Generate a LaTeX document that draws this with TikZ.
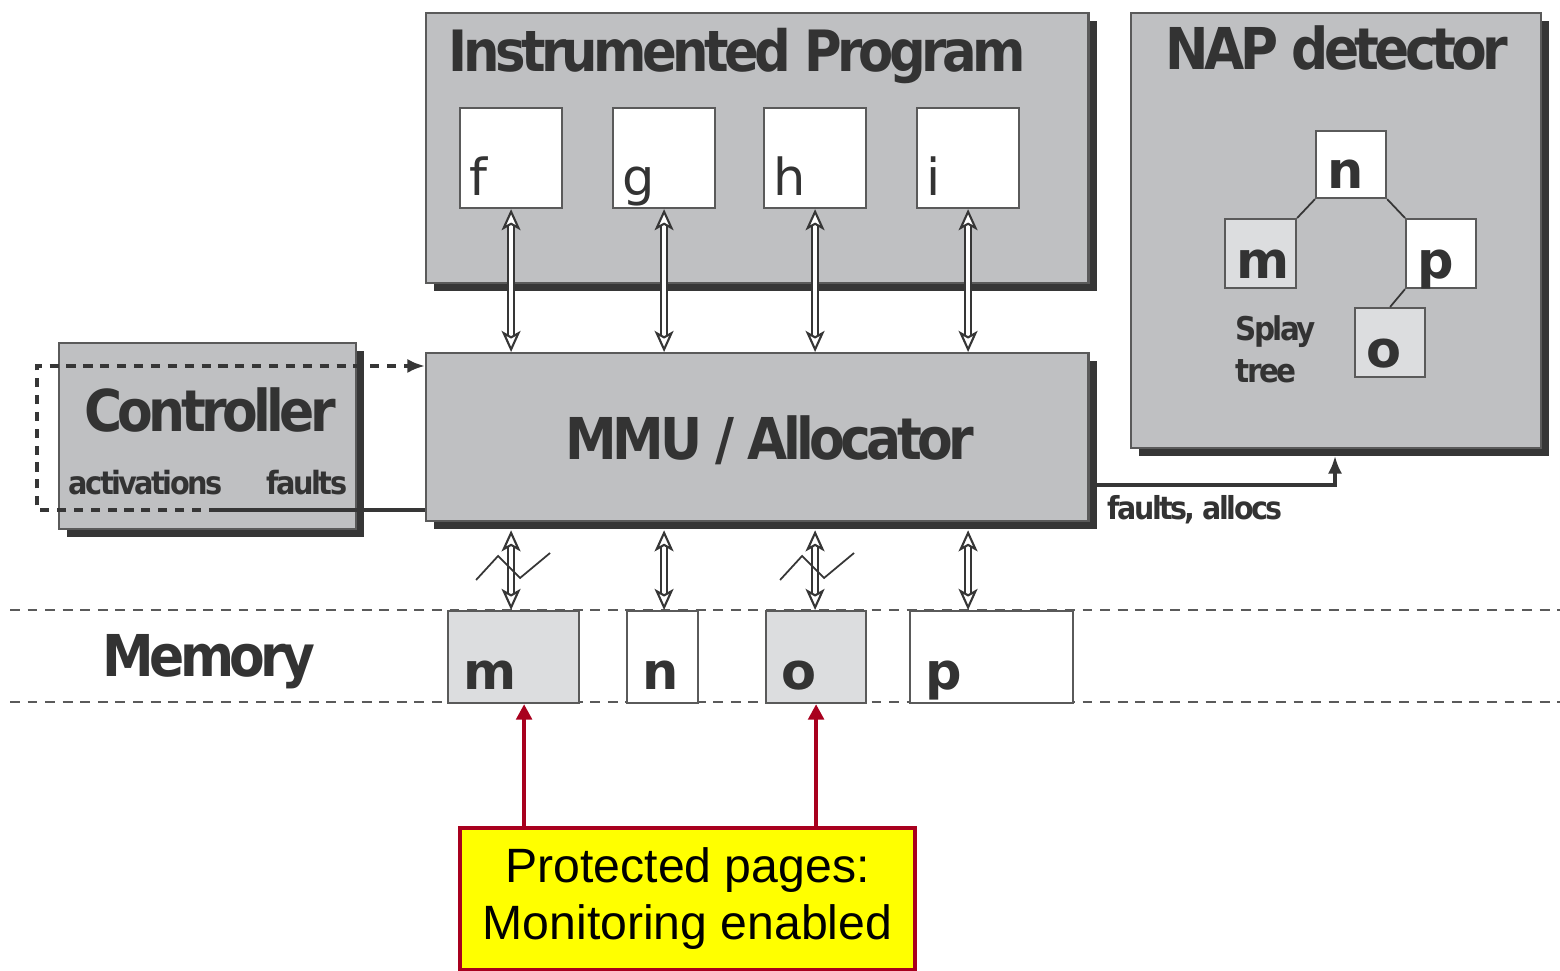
\documentclass[tikz,border=0pt]{standalone}
\usepackage{fontspec}
\setmainfont{DejaVu Sans}
\newfontfamily\condfont{DejaVu Sans Condensed}[LetterSpace=-8]
\newfontfamily\notefont{Liberation Sans}
\usetikzlibrary{positioning,arrows.meta,shadows}
\definecolor{boxgray}{HTML}{BFC0C2}
\definecolor{pagegray}{HTML}{DCDDDF}
\definecolor{shade}{HTML}{363636}
\definecolor{ink}{HTML}{333333}
\definecolor{edge}{HTML}{5A5A5A}
\definecolor{alert}{HTML}{A8001E}
\definecolor{note}{HTML}{FFFF00}

\begin{document}
\begin{tikzpicture}[
  x=0.01cm, y=-0.01cm,
  panel/.style={draw=edge, fill=boxgray, line width=0.6pt, anchor=north west, inner sep=0pt,
                drop shadow={shadow xshift=2.3pt, shadow yshift=-2.3pt, fill=shade, opacity=1}},
  cell/.style={draw=edge, fill=white, line width=0.6pt, anchor=north west, inner sep=0pt},
  page/.style={cell, minimum height=0.92cm},
  title/.style={text=ink, inner sep=0pt, font=\condfont\bfseries\fontsize{16.4}{18}\selectfont},
  small/.style={text=ink, inner sep=0pt, font=\condfont\bfseries\fontsize{9.1}{12.2}\selectfont},
  letter/.style={text=ink, inner sep=0pt, anchor=base west, font=\bfseries\fontsize{14.5}{16}\selectfont},
  dbl/.style={draw=shade, line width=0.6pt, double=white, double distance=1.1pt,
              {Stealth[length=6pt, width=5.4pt, inset=1.5pt, fill=white]}-{Stealth[length=6pt, width=5.4pt, inset=1.5pt, fill=white]}},
  dotline/.style={draw=shade, line width=1.3pt, dash pattern=on 2.6pt off 2.2pt},
  flow/.style={draw=shade, line width=0.9pt},
  zig/.style={draw=shade, line width=0.5pt},
  memline/.style={draw=edge, line width=0.7pt, dash pattern=on 2.8pt off 2.2pt},
  alertarrow/.style={draw=alert, line width=1.2pt, -{Triangle[length=4.4pt, width=4.4pt]}},
  notebox/.style={draw=alert, fill=note, line width=1.2pt, minimum width=4.55cm, minimum height=1.42cm,
                  align=center, inner sep=0pt, font=\notefont\fontsize{13.7}{16.2}\selectfont}
]
\useasboundingbox (0,0) rectangle (1560,971);

% memory strip
\draw[memline] (10,610) -- (1560,610);
\draw[memline] (10,702) -- (1560,702);
\node[title, anchor=base] (memtitle) at (209,677) {Memory};
\node[page, fill=pagegray, minimum width=1.31cm] (pm) at (447,610) {};
\node[page, minimum width=0.71cm] (pn) at (626,610) {};
\node[page, fill=pagegray, minimum width=1.00cm] (po) at (765,610) {};
\node[page, minimum width=1.63cm] (pp) at (909,610) {};
\foreach \p/\t in {pm/m, pn/n, po/o, pp/p}
  \node[letter] (lbl\p) at ([shift={(16,-15)}]\p.south west) {\t};

% instrumented program
\node[panel, minimum width=6.62cm, minimum height=2.70cm] (prog) at (425,12) {};
\node[title, anchor=base west, font=\condfont\bfseries\fontsize{16.2}{18}\selectfont] (progtitle) at (448,72) {Instrumented Program};
\foreach \n/\x in {f/459, g/612, h/763, i/916} {
  \node[cell, minimum width=1.02cm, minimum height=1.00cm] (\n) at (\x,107) {};
  \node[letter, font=\fontsize{14.5}{16}\selectfont\mdseries] (lbl\n) at ([shift={(10,-14)}]\n.south west) {\n};
}

% mmu
\node[panel, minimum width=6.62cm, minimum height=1.68cm] (mmu) at (425,352) {};
\node[title] (mmutitle) at (770,440) {MMU / Allocator};
\coordinate (mmubot) at ([yshift=-2.3pt]mmu.south);

% controller
\node[panel, minimum width=2.97cm, minimum height=1.86cm] (ctrl) at (58,342) {};
\node[title] (ctrltitle) at (210,410) {Controller};
\node[small, anchor=base west] (act) at (68,495) {activations};
\node[small, anchor=base east] (flt) at (348,495) {faults};
\coordinate (split) at (218,510);
\coordinate (lowleft) at (37,510);
\coordinate (upleft) at (37,366);
\draw[flow] (split) -- (split -| mmu.west);
\draw[dotline, -{Latex[length=5pt, width=4pt]}] (split) -- (lowleft) -- (upleft) -- (upleft -| mmu.west);

% nap detector
\node[panel, minimum width=4.10cm, minimum height=4.35cm] (nap) at (1130,12) {};
\node[title, anchor=base west] (naptitle) at (1165,70) {NAP detector};
\node[cell, minimum width=0.70cm, minimum height=0.67cm] (tn) at (1315,130) {};
\node[cell, fill=pagegray, minimum width=0.71cm, minimum height=0.69cm] (tm) at (1224,218) {};
\node[cell, minimum width=0.70cm, minimum height=0.69cm] (tp) at (1405,218) {};
\node[cell, fill=pagegray, minimum width=0.70cm, minimum height=0.69cm] (to) at (1354,307) {};
\foreach \t/\s in {tn/n, tm/m, tp/p, to/o}
  \node[letter] (lbl\t) at ([shift={(12,-11)}]\t.south west) {\s};
\draw[zig] (tn.south west) -- (tm.north east);
\draw[zig] (tn.south east) -- (tp.north west);
\draw[zig] (tp.south west) -- (to.north);
\node[small, anchor=base west, align=left, font=\condfont\bfseries\fontsize{9.3}{12.2}\selectfont] (splay) at (1235,383) {Splay\\tree};

\coordinate (fa) at (1095,485);
\coordinate (nb) at (1335,456);
\draw[flow, -{Latex[length=5pt, width=4pt]}] (fa) -| (nb);
\node[small, anchor=base west, font=\condfont\bfseries\fontsize{9}{11}\selectfont] (falbl) at (1107,520) {faults, allocs};

% accesses
\foreach \a/\b in {f/pm, g/pn, h/po, i/pp} {
  \draw[dbl] (\a.south |- mmu.north) -- (\a.south);
  \draw[dbl] (\a.south |- mmubot) -- (\a.south |- \b.north);
}
\coordinate (zz) at (0,580);
\foreach \a in {f, h}
  \draw[zig] ([xshift=-0.35cm]\a.south |- zz) -- ++(22,-24) -- ++(22,22) -- ++(30,-25);

% protected pages
\node[notebox] (note) at (687.5,899) {Protected pages:\\Monitoring enabled};
\draw[alertarrow] ([xshift=0.105cm]pm.south |- note.north) -- ([xshift=0.105cm]pm.south);
\draw[alertarrow] (po.south |- note.north) -- (po.south);
\end{tikzpicture}
\end{document}
